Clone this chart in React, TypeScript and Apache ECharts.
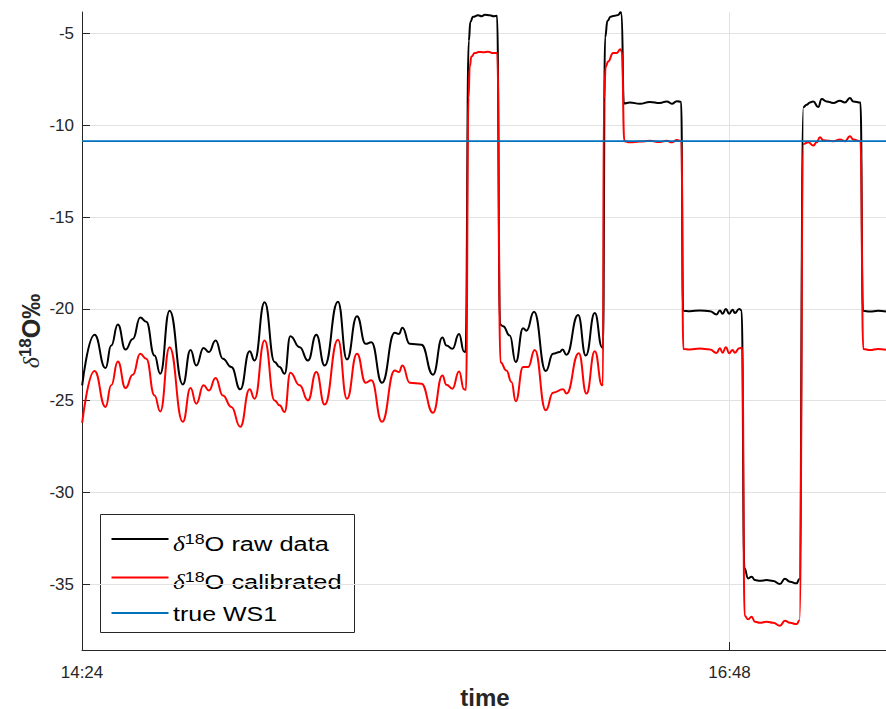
import React, { useEffect, useRef } from "react";
import * as echarts from "echarts";

// Time axis: minutes since midnight (14:24 = 864, 16:48 = 1008)
const X_MIN = 864;
const X_MAX = 1042.8;
const X_TICKS = [864, 1008];

const Y_MIN = -38.58;
const Y_MAX = -3.82;
const Y_TICKS = [-35, -30, -25, -20, -15, -10, -5];

// δ18O raw data
const rawTime = [
  864.04, 866.78, 869.23, 870.5, 871.97, 873.68, 875.3, 876.95, 878.29, 880.13,
  881.4, 883.47, 886.43, 888.14, 889.41, 891.04, 892.22, 893.71, 895.33, 897.2,
  899.2, 901.27, 902.38, 904.61, 906.84, 907.95, 909.06, 910.33, 912.4, 914.25,
  916.11, 917.96, 920.92, 922.92, 925.15, 927.08, 928.35, 930.71, 933.54, 934.49,
  935.25, 936.88, 939.48, 942.06, 944.15, 945.04, 946.38, 947.85, 948.96, 949.29,
  950.01, 950.38, 950.96, 952.07, 952.9, 953.57, 954.68, 955.57, 956.3,
  956.97, 957.64, 959.13, 960.46, 962.09, 962.84, 964.53, 967.14, 968.76, 970.25,
  970.85, 971.74, 974.33, 976.04, 978.04, 979.67, 979.85,
  980.33, 980.87, 981.54, 982.49, 983.23, 983.76, 984.0,
  984.5, 985.83, 988.06, 990.28, 992.51, 994.06, 995.18, 996.29, 997.24,
  997.69, 999.18, 1001.41, 1003.63, 1005.12, 1005.86, 1006.46, 1007.19, 1007.93,
  1008.68, 1009.19, 1010.15, 1010.69,
  1011.31, 1012.15, 1012.91, 1013.65, 1014.76, 1016.25, 1017.72, 1019.21, 1020.32,
  1021.43, 1022.92, 1023.55,
  1024.44, 1025.15, 1025.88, 1026.62, 1027.73, 1028.49, 1029.6, 1031.07, 1032.56,
  1033.67, 1034.78, 1035.52, 1037.12,
  1037.68, 1039.23, 1041.01, 1042.8,
];
const rawD18O = [
  -24.16, -21.4, -23.22, -21.99, -20.85, -22.21, -21.63, -20.47, -20.69, -22.54,
  -23.53, -20.09, -24.11, -22.23, -23.08, -22.12, -22.35, -21.72, -22.71, -23.16,
  -24.38, -22.3, -22.81, -19.64, -22.89, -23.16, -23.53, -21.48, -22.08, -22.81,
  -21.41, -23.08, -19.6, -22.75, -20.4, -21.9, -21.81, -24.02, -21.3, -21.36,
  -21.02, -21.9, -21.95, -23.58, -21.56, -21.99, -22.17, -21.36, -22.32, -22.35,
  -5.4, -4.35, -4.08, -4.0, -4.05, -3.97, -4.0, -4.05, -4.03,
  -20.85, -20.94, -21.45, -22.89, -21.05, -21.18, -20.15, -23.38, -22.44, -22.35,
  -22.21, -22.5, -20.33, -22.54, -20.22, -22.08, -22.15,
  -5.2, -4.3, -4.08, -4.02, -3.98, -3.84, -3.92,
  -8.8, -8.75, -8.82, -8.72, -8.78, -8.69, -8.82, -8.68, -8.72,
  -20.1, -20.12, -20.08, -20.12, -20.3, -20.08, -20.26, -20.0, -20.26,
  -20.04, -20.22, -20.0, -20.08,
  -34.13, -34.68, -34.59, -34.77, -34.81, -34.77, -34.82, -34.99, -34.7,
  -34.86, -34.95, -34.71,
  -9.0, -8.87, -8.75, -8.69, -9.0, -8.56, -8.69, -8.78, -8.65,
  -8.75, -8.51, -8.69, -8.75,
  -20.1, -20.14, -20.1, -20.14,
];

// δ18O calibrated
const calTime = [
  864.04, 866.78, 869.23, 870.5, 871.97, 873.68, 875.3, 876.95, 878.29, 880.13,
  881.4, 883.47, 886.43, 888.14, 889.41, 891.04, 892.22, 893.71, 895.33, 897.2,
  899.2, 901.27, 902.38, 904.61, 906.84, 907.95, 909.06, 910.33, 912.4, 914.25,
  916.11, 917.96, 920.92, 922.92, 925.15, 927.08, 928.35, 930.71, 933.54, 934.49,
  935.25, 936.88, 939.48, 942.06, 944.15, 945.04, 946.38, 947.85, 948.96, 949.4,
  949.96, 950.23, 950.6, 951.34, 952.23, 953.19, 954.3, 955.41, 956.35,
  957.06, 958.39, 959.51, 960.46, 962.09, 963.2, 964.69, 967.14, 968.76, 970.99,
  971.74, 974.48, 976.19, 978.04, 979.67, 979.85,
  980.05, 980.49, 981.0, 982.12, 982.87, 983.76, 984.05,
  984.61, 985.83, 988.06, 990.28, 992.51, 994.06, 995.18, 996.29, 997.29,
  997.73, 999.18, 1001.41, 1003.63, 1005.12, 1005.86, 1006.46, 1007.19, 1007.93,
  1008.68, 1009.19, 1010.15, 1010.82,
  1011.36, 1012.15, 1012.91, 1013.65, 1014.76, 1016.25, 1017.72, 1019.21, 1020.32,
  1021.43, 1022.92, 1023.55,
  1024.44, 1025.51, 1026.62, 1027.38, 1028.11, 1028.84, 1031.07, 1032.56, 1033.67,
  1034.78, 1035.52, 1037.12,
  1037.75, 1039.23, 1041.01, 1042.8,
];
const calD18O = [
  -26.21, -23.38, -25.34, -24.16, -22.86, -24.31, -23.58, -22.44, -22.71, -24.71,
  -25.58, -22.08, -26.15, -24.31, -25.16, -24.16, -24.44, -23.76, -24.71, -25.34,
  -26.42, -24.38, -24.89, -21.72, -24.98, -25.25, -25.61, -23.47, -24.16, -24.98,
  -23.44, -25.21, -21.68, -24.89, -22.44, -24.02, -23.89, -26.15, -23.35, -23.44,
  -23.08, -24.02, -24.07, -25.65, -23.62, -24.13, -24.34, -23.4, -24.38, -24.4,
  -8.5, -6.79, -6.25, -6.06, -6.0, -6.01, -5.98, -6.06, -6.05,
  -22.9, -23.35, -23.98, -25.03, -23.16, -23.16, -22.23, -25.52, -24.56, -24.38,
  -24.61, -22.41, -24.61, -22.3, -24.16, -24.05,
  -8.6, -6.79, -6.52, -6.06, -6.06, -5.85, -5.98,
  -10.86, -10.92, -10.88, -10.84, -10.9, -10.84, -10.92, -10.8, -10.86,
  -22.18, -22.21, -22.16, -22.21, -22.4, -22.14, -22.38, -22.09, -22.41,
  -22.23, -22.38, -22.14, -22.11,
  -36.72, -36.91, -36.77, -37.04, -37.1, -37.04, -37.1, -37.26, -36.99,
  -37.1, -37.17, -36.97,
  -11.0, -10.92, -11.1, -10.92, -10.65, -10.81, -10.86, -10.77, -10.86,
  -10.59, -10.77, -10.86,
  -22.18, -22.24, -22.18, -22.22,
];

// true WS1 reference value
const trueWS1 = -10.86;

const LEGEND_LABELS = ["O raw data", "O calibrated", "true WS1"];

const AXIS_COLOR = "#262626";
const GRID_COLOR = "#e2e2e2";
const SANS = "'Liberation Sans', Arial, Helvetica, sans-serif";
const SERIF = "'Liberation Serif', 'Times New Roman', serif";

const fmtTime = (v: number) => {
  const m = Math.round(v);
  const h = Math.floor(m / 60);
  const mm = m % 60;
  return `${h}:${String(mm).padStart(2, "0")}`;
};

const legendRich = {
  d: { fontFamily: SERIF, fontStyle: "italic", fontSize: 20, lineHeight: 24, fill: "#000" },
  s: { fontFamily: SANS, fontSize: 14, lineHeight: 8, verticalAlign: "top", fill: "#000" },
  n: { fontFamily: SANS, fontSize: 20, lineHeight: 24, fill: "#000" },
};

export default function App() {
  const ref = useRef<HTMLDivElement>(null);

  useEffect(() => {
    if (!ref.current) return;
    const chart = echarts.init(ref.current, undefined, { renderer: "svg" });

    const option: any = {
      animation: false,
      backgroundColor: "#ffffff",
      grid: { left: 82, right: 0, top: 12, bottom: 59, containLabel: false },
      xAxis: {
        type: "value",
        min: X_MIN,
        max: X_MAX,
        axisLine: { show: true, onZero: false, lineStyle: { color: AXIS_COLOR, width: 1 } },
        axisTick: {
          show: true,
          inside: true,
          length: 8,
          customValues: X_TICKS,
          lineStyle: { color: AXIS_COLOR, width: 1 },
        },
        axisLabel: {
          customValues: X_TICKS,
          formatter: (v: number) => fmtTime(v),
          color: AXIS_COLOR,
          fontFamily: SANS,
          fontSize: 17,
          margin: 14,
        },
        splitLine: { show: true, lineStyle: { color: GRID_COLOR, width: 1 } },
      },
      yAxis: {
        type: "value",
        min: Y_MIN,
        max: Y_MAX,
        axisLine: { show: true, onZero: false, lineStyle: { color: AXIS_COLOR, width: 1 } },
        axisTick: {
          show: true,
          inside: true,
          length: 8,
          customValues: Y_TICKS,
          lineStyle: { color: AXIS_COLOR, width: 1 },
        },
        axisLabel: {
          customValues: Y_TICKS,
          formatter: (v: number) => String(v),
          color: AXIS_COLOR,
          fontFamily: SANS,
          fontSize: 17,
          margin: 8,
        },
        splitLine: { show: true, lineStyle: { color: GRID_COLOR, width: 1 } },
      },
      series: [
        {
          name: "raw",
          type: "line",
          data: rawTime.map((t, i) => [t, rawD18O[i]]),
          showSymbol: false,
          smooth: 0.5,
          smoothMonotone: "x",
          lineStyle: { color: "#000000", width: 2 },
          z: 2,
        },
        {
          name: "calibrated",
          type: "line",
          data: calTime.map((t, i) => [t, calD18O[i]]),
          showSymbol: false,
          smooth: 0.5,
          smoothMonotone: "x",
          lineStyle: { color: "#ff0000", width: 2 },
          z: 3,
        },
        {
          name: "true WS1",
          type: "line",
          data: [
            [X_MIN, trueWS1],
            [X_MAX, trueWS1],
          ],
          showSymbol: false,
          lineStyle: { color: "#0072bd", width: 1.8 },
          z: 4,
        },
      ],
      graphic: [
        // y-axis title
        {
          type: "text",
          x: 31,
          y: 331,
          rotation: Math.PI / 2,
          style: {
            text: "{d|δ}{s|18}{b|O‰}",
            align: "center",
            verticalAlign: "middle",
            rich: {
              d: { fontFamily: SERIF, fontStyle: "italic", fontSize: 24, lineHeight: 28, fill: AXIS_COLOR },
              s: { fontFamily: SANS, fontWeight: "bold", fontSize: 17, lineHeight: 12, verticalAlign: "top", fill: AXIS_COLOR },
              b: { fontFamily: SANS, fontWeight: "bold", fontSize: 25, lineHeight: 28, fill: AXIS_COLOR },
            },
          },
        },
        // x-axis title
        {
          type: "text",
          x: 485,
          y: 697,
          style: {
            text: "time",
            fontFamily: SANS,
            fontWeight: "bold",
            fontSize: 24,
            fill: AXIS_COLOR,
            align: "center",
            verticalAlign: "middle",
          },
        },
        // legend box
        {
          type: "group",
          z: 100,
          children: [
            {
              type: "rect",
              shape: { x: 100.5, y: 514.5, width: 254, height: 118 },
              style: { fill: "#ffffff", stroke: AXIS_COLOR, lineWidth: 1 },
            },
            {
              type: "line",
              shape: { x1: 111.5, y1: 539, x2: 168.5, y2: 539 },
              style: { stroke: "#000000", lineWidth: 1.8 },
            },
            {
              type: "line",
              shape: { x1: 111.5, y1: 577.5, x2: 168.5, y2: 577.5 },
              style: { stroke: "#ff0000", lineWidth: 1.8 },
            },
            {
              type: "line",
              shape: { x1: 111.5, y1: 613, x2: 168.5, y2: 613 },
              style: { stroke: "#0072bd", lineWidth: 1.8 },
            },
            {
              type: "text",
              x: 173,
              y: 544.5,
              scaleX: 1.27,
              style: {
                text: `{d|δ}{s|18}{n|${LEGEND_LABELS[0]}}`,
                align: "left",
                verticalAlign: "middle",
                rich: legendRich,
              },
            },
            {
              type: "text",
              x: 173,
              y: 582,
              scaleX: 1.27,
              style: {
                text: `{d|δ}{s|18}{n|${LEGEND_LABELS[1]}}`,
                align: "left",
                verticalAlign: "middle",
                rich: legendRich,
              },
            },
            {
              type: "text",
              x: 173,
              y: 614,
              scaleX: 1.25,
              style: {
                text: LEGEND_LABELS[2],
                fontFamily: SANS,
                fontSize: 20,
                fill: "#000",
                align: "left",
                verticalAlign: "middle",
              },
            },
          ],
        },
      ],
    };

    chart.setOption(option);
    return () => chart.dispose();
  }, []);

  return (
    <div
      ref={ref}
      style={{ position: "absolute", left: 0, top: 0, width: 886, height: 709, background: "#fff" }}
    />
  );
}
